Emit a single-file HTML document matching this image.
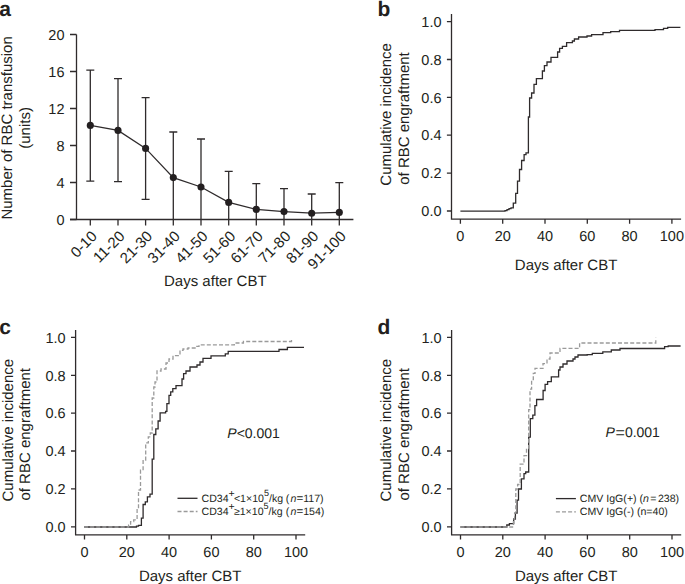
<!DOCTYPE html>
<html><head><meta charset="utf-8"><style>
html,body{margin:0;padding:0;background:#fff;}
svg{display:block;}
text{font-family:"Liberation Sans",sans-serif;fill:#231f20;text-rendering:geometricPrecision;}
</style></head><body>
<svg width="685" height="584" viewBox="0 0 685 584">
<text x="-0.7" y="15.7" font-size="21" text-anchor="start" font-weight="bold">a</text>
<path d="M76.5 34.5 V219.5 M70 219.5 H353.4" stroke="#2f2b2c" stroke-width="1.3" fill="none"/>
<path d="M70 219.5 H76.5 M70 182.5 H76.5 M70 145.5 H76.5 M70 108.5 H76.5 M70 71.5 H76.5 M70 34.5 H76.5 " stroke="#2f2b2c" stroke-width="1.3" fill="none"/>
<text x="64.5" y="224.7" font-size="14.5" text-anchor="end" >0</text>
<text x="64.5" y="187.7" font-size="14.5" text-anchor="end" >4</text>
<text x="64.5" y="150.7" font-size="14.5" text-anchor="end" >8</text>
<text x="64.5" y="113.7" font-size="14.5" text-anchor="end" >12</text>
<text x="64.5" y="76.7" font-size="14.5" text-anchor="end" >16</text>
<text x="64.5" y="39.7" font-size="14.5" text-anchor="end" >20</text>
<path d="M90.3 219.5 V225.5 M118.0 219.5 V225.5 M145.6 219.5 V225.5 M173.3 219.5 V225.5 M201.0 219.5 V225.5 M228.7 219.5 V225.5 M256.3 219.5 V225.5 M284.0 219.5 V225.5 M311.7 219.5 V225.5 M339.3 219.5 V225.5 " stroke="#2f2b2c" stroke-width="1.3" fill="none"/>
<text transform="translate(97.9 237.2) rotate(-45)" font-size="15" text-anchor="end">0-10</text>
<text transform="translate(125.6 237.2) rotate(-45)" font-size="15" text-anchor="end">11-20</text>
<text transform="translate(153.2 237.2) rotate(-45)" font-size="15" text-anchor="end">21-30</text>
<text transform="translate(180.9 237.2) rotate(-45)" font-size="15" text-anchor="end">31-40</text>
<text transform="translate(208.6 237.2) rotate(-45)" font-size="15" text-anchor="end">41-50</text>
<text transform="translate(236.3 237.2) rotate(-45)" font-size="15" text-anchor="end">51-60</text>
<text transform="translate(263.9 237.2) rotate(-45)" font-size="15" text-anchor="end">61-70</text>
<text transform="translate(291.6 237.2) rotate(-45)" font-size="15" text-anchor="end">71-80</text>
<text transform="translate(319.3 237.2) rotate(-45)" font-size="15" text-anchor="end">81-90</text>
<text transform="translate(346.9 237.2) rotate(-45)" font-size="15" text-anchor="end">91-100</text>
<path d="M90.3 70.2 V181.1 M86.3 70.2 H94.3 M86.3 181.1 H94.3 M118.0 78.7 V181.6 M114.0 78.7 H122.0 M114.0 181.6 H122.0 M145.6 97.6 V199.4 M141.6 97.6 H149.6 M141.6 199.4 H149.6 M173.3 132.0 V219.5 M169.3 132.0 H177.3 M201.0 139.0 V219.5 M197.0 139.0 H205.0 M228.7 171.4 V219.5 M224.7 171.4 H232.7 M256.3 183.6 V219.5 M252.3 183.6 H260.3 M284.0 188.6 V219.5 M280.0 188.6 H288.0 M311.7 194.0 V219.5 M307.7 194.0 H315.7 M339.3 182.6 V219.5 M335.3 182.6 H343.3 " stroke="#2f2b2c" stroke-width="1.3" fill="none"/>
<polyline points="90.3,125.4 118.0,130.4 145.6,148.4 173.3,177.6 201.0,187.0 228.7,202.4 256.3,209.4 284.0,211.6 311.7,213.2 339.3,212.4" stroke="#2f2b2c" stroke-width="1.3" fill="none"/>
<circle cx="90.3" cy="125.4" r="3.55" fill="#231f20"/>
<circle cx="118.0" cy="130.4" r="3.55" fill="#231f20"/>
<circle cx="145.6" cy="148.4" r="3.55" fill="#231f20"/>
<circle cx="173.3" cy="177.6" r="3.55" fill="#231f20"/>
<circle cx="201.0" cy="187.0" r="3.55" fill="#231f20"/>
<circle cx="228.7" cy="202.4" r="3.55" fill="#231f20"/>
<circle cx="256.3" cy="209.4" r="3.55" fill="#231f20"/>
<circle cx="284.0" cy="211.6" r="3.55" fill="#231f20"/>
<circle cx="311.7" cy="213.2" r="3.55" fill="#231f20"/>
<circle cx="339.3" cy="212.4" r="3.55" fill="#231f20"/>
<text x="215.3" y="286.4" font-size="15" text-anchor="middle" >Days after CBT</text>
<text transform="translate(12.4 127.9) rotate(-90)" font-size="15" text-anchor="middle">Number of RBC transfusion</text>
<text transform="translate(29.8 127.9) rotate(-90)" font-size="15" text-anchor="middle">(units)</text>
<text x="377.6" y="15.6" font-size="21" text-anchor="start" font-weight="bold">b</text>
<path d="M451.5 14.1 V219.1 H681.1" stroke="#2f2b2c" stroke-width="1.3" fill="none"/>
<path d="M446.9 211.0 H451.5 M446.9 173.1 H451.5 M446.9 135.2 H451.5 M446.9 97.4 H451.5 M446.9 59.5 H451.5 M446.9 21.6 H451.5 M460.4 219.1 V223.7 M502.7 219.1 V223.7 M545.0 219.1 V223.7 M587.3 219.1 V223.7 M629.6 219.1 V223.7 M671.9 219.1 V223.7 " stroke="#2f2b2c" stroke-width="1.3" fill="none"/>
<text x="441.5" y="216.2" font-size="14.5" text-anchor="end" >0.0</text>
<text x="441.5" y="178.3" font-size="14.5" text-anchor="end" >0.2</text>
<text x="441.5" y="140.4" font-size="14.5" text-anchor="end" >0.4</text>
<text x="441.5" y="102.6" font-size="14.5" text-anchor="end" >0.6</text>
<text x="441.5" y="64.7" font-size="14.5" text-anchor="end" >0.8</text>
<text x="441.5" y="26.8" font-size="14.5" text-anchor="end" >1.0</text>
<text x="460.4" y="241.2" font-size="14.5" text-anchor="middle" >0</text>
<text x="502.7" y="241.2" font-size="14.5" text-anchor="middle" >20</text>
<text x="545.0" y="241.2" font-size="14.5" text-anchor="middle" >40</text>
<text x="587.3" y="241.2" font-size="14.5" text-anchor="middle" >60</text>
<text x="629.6" y="241.2" font-size="14.5" text-anchor="middle" >80</text>
<text x="671.9" y="241.2" font-size="14.5" text-anchor="middle" >100</text>
<text x="566.1" y="269.8" font-size="15" text-anchor="middle" >Days after CBT</text>
<text transform="translate(391.2 114.4) rotate(-90)" font-size="15" text-anchor="middle">Cumulative incidence</text>
<text transform="translate(408.9 118.5) rotate(-90)" font-size="15" text-anchor="middle">of RBC engraftment</text>
<text x="-0.7" y="334.4" font-size="21" text-anchor="start" font-weight="bold">c</text>
<path d="M75.6 329.9 V534.9 H305.2" stroke="#2f2b2c" stroke-width="1.3" fill="none"/>
<path d="M71.0 526.8 H75.6 M71.0 488.9 H75.6 M71.0 451.0 H75.6 M71.0 413.2 H75.6 M71.0 375.3 H75.6 M71.0 337.4 H75.6 M84.5 534.9 V539.5 M126.8 534.9 V539.5 M169.1 534.9 V539.5 M211.4 534.9 V539.5 M253.7 534.9 V539.5 M296.0 534.9 V539.5 " stroke="#2f2b2c" stroke-width="1.3" fill="none"/>
<text x="65.6" y="532.0" font-size="14.5" text-anchor="end" >0.0</text>
<text x="65.6" y="494.1" font-size="14.5" text-anchor="end" >0.2</text>
<text x="65.6" y="456.2" font-size="14.5" text-anchor="end" >0.4</text>
<text x="65.6" y="418.4" font-size="14.5" text-anchor="end" >0.6</text>
<text x="65.6" y="380.5" font-size="14.5" text-anchor="end" >0.8</text>
<text x="65.6" y="342.6" font-size="14.5" text-anchor="end" >1.0</text>
<text x="84.5" y="557.0" font-size="14.5" text-anchor="middle" >0</text>
<text x="126.8" y="557.0" font-size="14.5" text-anchor="middle" >20</text>
<text x="169.1" y="557.0" font-size="14.5" text-anchor="middle" >40</text>
<text x="211.4" y="557.0" font-size="14.5" text-anchor="middle" >60</text>
<text x="253.7" y="557.0" font-size="14.5" text-anchor="middle" >80</text>
<text x="296.0" y="557.0" font-size="14.5" text-anchor="middle" >100</text>
<text x="190.2" y="580.8" font-size="15" text-anchor="middle" >Days after CBT</text>
<text transform="translate(12.7 430.2) rotate(-90)" font-size="15" text-anchor="middle">Cumulative incidence</text>
<text transform="translate(30.4 434.3) rotate(-90)" font-size="15" text-anchor="middle">of RBC engraftment</text>
<text x="377.6" y="334.4" font-size="21" text-anchor="start" font-weight="bold">d</text>
<path d="M451.6 329.9 V534.9 H681.2" stroke="#2f2b2c" stroke-width="1.3" fill="none"/>
<path d="M447.0 526.8 H451.6 M447.0 488.9 H451.6 M447.0 451.0 H451.6 M447.0 413.2 H451.6 M447.0 375.3 H451.6 M447.0 337.4 H451.6 M460.5 534.9 V539.5 M502.8 534.9 V539.5 M545.1 534.9 V539.5 M587.4 534.9 V539.5 M629.7 534.9 V539.5 M672.0 534.9 V539.5 " stroke="#2f2b2c" stroke-width="1.3" fill="none"/>
<text x="441.6" y="532.0" font-size="14.5" text-anchor="end" >0.0</text>
<text x="441.6" y="494.1" font-size="14.5" text-anchor="end" >0.2</text>
<text x="441.6" y="456.2" font-size="14.5" text-anchor="end" >0.4</text>
<text x="441.6" y="418.4" font-size="14.5" text-anchor="end" >0.6</text>
<text x="441.6" y="380.5" font-size="14.5" text-anchor="end" >0.8</text>
<text x="441.6" y="342.6" font-size="14.5" text-anchor="end" >1.0</text>
<text x="460.5" y="557.0" font-size="14.5" text-anchor="middle" >0</text>
<text x="502.8" y="557.0" font-size="14.5" text-anchor="middle" >20</text>
<text x="545.1" y="557.0" font-size="14.5" text-anchor="middle" >40</text>
<text x="587.4" y="557.0" font-size="14.5" text-anchor="middle" >60</text>
<text x="629.7" y="557.0" font-size="14.5" text-anchor="middle" >80</text>
<text x="672.0" y="557.0" font-size="14.5" text-anchor="middle" >100</text>
<text x="566.2" y="580.8" font-size="15" text-anchor="middle" >Days after CBT</text>
<text transform="translate(391.3 430.2) rotate(-90)" font-size="15" text-anchor="middle">Cumulative incidence</text>
<text transform="translate(409.0 434.3) rotate(-90)" font-size="15" text-anchor="middle">of RBC engraftment</text>
<path d="M460.4 211.2 H504.0 H505.0 V210.6 H507.0 V209.6 H509.0 V208.6 H511.0 V207.9 H513.3 V203.1 H515.7 V193.3 H517.5 V181.2 H519.5 V169.5 H521.6 V160.5 H524.1 V154.6 H526.0 V152.9 H528.4 V117.0 H529.6 V98.0 H531.6 V93.0 H534.0 V84.4 H536.4 V78.6 H542.4 V71.0 H544.4 V65.6 H547.0 V62.0 H551.0 V57.4 H557.6 V52.0 H559.6 V48.4 H562.4 V46.4 H566.6 V42.6 H572.4 V41.0 H574.4 V39.0 H578.6 V37.0 H587.0 V36.0 H591.6 V34.6 H603.0 V32.6 H610.7 V31.7 H619.5 V30.3 H655.0 V29.6 H663.5 V28.4 H667.7 V27.4 H680.4" stroke="#2f2b2c" stroke-width="1.3" fill="none"/>
<path d="M84.0 527.0 H134.6 H136.5 V526.2 H138.5 V525.4 H141.4 V524.2 H141.4 V518.2 H143.1 V504.5 H145.3 V501.9 H147.4 V496.8 H150.0 V494.2 H152.2 V459.1 H153.8 V434.5 H155.8 V428.8 H158.1 V421.0 H160.1 V412.9 H165.6 V411.3 H166.9 V403.6 H169.0 V395.4 H170.7 V391.8 H172.8 V388.7 H176.0 V385.6 H182.0 V379.0 H183.6 V373.6 H186.0 V371.0 H190.0 V367.0 H197.0 V365.0 H200.0 V362.0 H203.0 V358.4 H211.0 V355.8 H225.3 V353.8 H228.2 V351.4 H279.0 V349.5 H287.4 V347.3 H304.0" stroke="#2f2b2c" stroke-width="1.3" fill="none"/>
<path d="M84.0 527.0 H128.6 H128.6 V525.0 H130.6 V521.6 H133.7 V519.9 H137.1 V509.6 H138.5 V490.0 H140.5 V470.2 H143.1 V460.0 H145.7 V442.8 H148.3 V436.8 H150.3 V433.0 H152.2 V398.0 H153.8 V387.0 H155.0 V382.0 H157.0 V371.0 H161.0 V369.0 H166.0 V363.0 H169.0 V359.0 H173.0 V355.6 H180.0 V350.4 H183.0 V349.0 H188.0 V348.0 H196.0 V346.4 H199.0 V344.8 H234.3 V343.0 H243.4 V341.5 H291.5 V339.3" stroke="#9a9a9a" stroke-width="1.3" fill="none" stroke-dasharray="4 2.1"/>
<path d="M460.4 527.0 H503.4 H506.8 V525.0 H509.4 V523.7 H513.7 V523.3 H513.7 V519.0 H515.4 V513.0 H517.1 V500.2 H518.5 V489.0 H521.4 V478.8 H524.0 V473.7 H525.7 V472.0 H528.7 V437.1 H530.3 V418.6 H532.8 V415.2 H534.9 V405.6 H536.6 V399.5 H543.1 V390.5 H545.1 V384.4 H547.6 V381.6 H551.3 V376.8 H558.6 V370.0 H560.0 V367.0 H563.0 V364.0 H567.0 V361.0 H573.0 V359.0 H575.0 V357.0 H578.0 V355.0 H587.2 V354.6 H592.3 V353.3 H602.8 V351.8 H611.3 V350.0 H620.0 V348.5 H664.6 V346.7 H668.2 V346.0 H680.6" stroke="#2f2b2c" stroke-width="1.3" fill="none"/>
<path d="M460.4 527.0 H513.4 H513.4 V519.0 H514.6 V513.0 H515.8 V489.0 H517.6 V484.5 H520.2 V464.2 H524.0 V455.7 H526.5 V448.8 H528.7 V409.7 H530.0 V389.2 H531.6 V379.6 H533.3 V373.4 H535.0 V368.4 H543.0 V363.6 H547.0 V359.0 H550.0 V353.0 H560.0 V348.4 H579.6 V343.0 H655.8 V337.8" stroke="#9a9a9a" stroke-width="1.3" fill="none" stroke-dasharray="4 2.1"/>
<path d="M177.5 498.3 H197.5" stroke="#2f2b2c" stroke-width="1.3" fill="none"/>
<text x="201.5" y="501.6" font-size="10.6" text-anchor="start" >CD34<tspan y="496.7" font-size="10.6">+</tspan><tspan y="501.6" dx="-0.9">&lt;1×10</tspan><tspan y="495.6" font-size="9">5</tspan><tspan y="501.6">/kg</tspan><tspan x="285.8">(</tspan><tspan x="290.4" font-style="italic">n</tspan><tspan x="296.4" font-size="11.6">=</tspan><tspan x="303.2">117)</tspan></text>
<path d="M177.5 511.5 H197.5" stroke="#9a9a9a" stroke-width="1.3" fill="none" stroke-dasharray="4 2.1"/>
<text x="201.5" y="515.1" font-size="10.6" text-anchor="start" >CD34<tspan y="510.2" font-size="10.6">+</tspan><tspan y="515.1" dx="-0.9">≥1×10</tspan><tspan y="509.1" font-size="9">5</tspan><tspan y="515.1">/kg</tspan><tspan x="285.8">(</tspan><tspan x="290.4" font-style="italic">n</tspan><tspan x="296.4" font-size="11.6">=</tspan><tspan x="303.2">154)</tspan></text>
<path d="M555.9 498.6 H575.9" stroke="#2f2b2c" stroke-width="1.3" fill="none"/>
<text x="579.8" y="502.4" font-size="10.6" text-anchor="start" >CMV IgG(+) (<tspan font-style="italic">n</tspan><tspan dx="1.2">=</tspan><tspan dx="1.5">238)</tspan></text>
<path d="M555.9 511.8 H575.9" stroke="#9a9a9a" stroke-width="1.3" fill="none" stroke-dasharray="4 2.1"/>
<text x="579.8" y="515.1" font-size="10.6" text-anchor="start" >CMV IgG(-) (n=40)</text>
<text x="227.3" y="437.6" font-size="14" text-anchor="start" ><tspan font-style="italic">P</tspan>&lt;0.001</text>
<text x="605.6" y="437.4" font-size="14" text-anchor="start" ><tspan font-style="italic">P</tspan><tspan dx="0.6" dy="0.8" font-size="16">=</tspan><tspan dy="-0.8">0.001</tspan></text>
</svg>
</body></html>
